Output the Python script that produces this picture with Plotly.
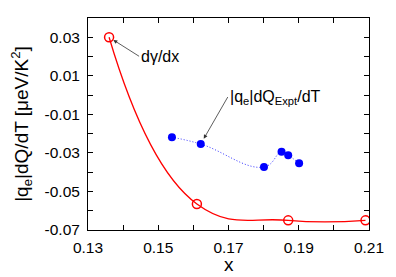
import plotly.graph_objects as go

# Theory curve dγ/dx (red open circles)
theory_x = [0.136, 0.161, 0.187, 0.209]
theory_y = [0.030, -0.0565, -0.065, -0.065]

# Experimental |q_e| dQ_Expt/dT (blue filled circles)
expt_x = [0.1539, 0.1621, 0.1801, 0.1851, 0.1870, 0.1901]
expt_y = [-0.0219, -0.0254, -0.0373, -0.0294, -0.0312, -0.0354]

x_ticks = [0.13, 0.15, 0.17, 0.19, 0.21]
y_ticks = [-0.07, -0.05, -0.03, -0.01, 0.01, 0.03]

FONT = "Liberation Sans, Arial, sans-serif"

fig = go.Figure()
fig.add_trace(go.Scatter(
    x=theory_x, y=theory_y, mode="lines+markers",
    line=dict(color="#ff0000", width=1.3, shape="spline", smoothing=1.3),
    marker=dict(symbol="circle-open", size=9, color="#ff0000", line=dict(width=1.5)),
    showlegend=False))
fig.add_trace(go.Scatter(
    x=expt_x, y=expt_y, mode="lines+markers",
    line=dict(color="#3333ff", width=1, dash="1px,2px", shape="spline", smoothing=1.3),
    marker=dict(symbol="circle", size=8, color="#0000ff"),
    showlegend=False))

fig.add_annotation(x=theory_x[0], y=theory_y[0], text="dγ/dx",
                   showarrow=True, ax=30, ay=19, axref="pixel", ayref="pixel",
                   xanchor="left", yanchor="middle",
                   arrowhead=2, arrowsize=1, arrowwidth=0.8, arrowcolor="#333333",
                   standoff=5, font=dict(family=FONT, size=16, color="black"))
fig.add_annotation(x=expt_x[1], y=expt_y[1], text="|q<sub>e</sub>|dQ<sub>Expt</sub>/dT",
                   showarrow=True, ax=27, ay=-47, axref="pixel", ayref="pixel",
                   xanchor="left", yanchor="middle",
                   arrowhead=2, arrowsize=1, arrowwidth=0.8, arrowcolor="#333333",
                   standoff=6, font=dict(family=FONT, size=16, color="black"))

# x-axis title as a paper-positioned annotation
fig.add_annotation(x=0.5, y=-0.222, xref="paper", yref="paper", text="x",
                   showarrow=False, xanchor="center", yanchor="bottom",
                   font=dict(family=FONT, size=19, color="black"))

axis_common = dict(showgrid=False, zeroline=False, showline=True, linecolor="black",
                   linewidth=1, mirror="ticks", ticks="inside", ticklen=5, automargin=False,
                   tickcolor="black", tickfont=dict(family=FONT, size=15.5, color="black"))

fig.update_xaxes(range=[0.13, 0.21], tickvals=x_ticks,
                 ticktext=[f"{v:.2f}" for v in x_ticks],
                 minor=dict(ticks="inside", dtick=0.01, tick0=0.13, ticklen=5, tickcolor="black"),
                 ticklabelstandoff=3,
                 **axis_common)
fig.update_yaxes(range=[-0.07, 0.04], tickvals=y_ticks,
                 ticktext=[f"{v:.2f}" for v in y_ticks],
                 minor=dict(ticks="inside", dtick=0.01, tick0=-0.07, ticklen=5, tickcolor="black"),
                 title=dict(text="|q<sub>e</sub>|dQ/dT [μeV/K<sup>2</sup>]",
                            font=dict(family=FONT, size=19, color="black"), standoff=17),
                 ticklabelstandoff=4,
                 **axis_common)

fig.update_layout(width=388, height=269, margin=dict(l=80, r=27, t=10, b=47),
                  paper_bgcolor="white", plot_bgcolor="white",
                  font=dict(family=FONT, color="black"))

fig.write_html("out.html")
